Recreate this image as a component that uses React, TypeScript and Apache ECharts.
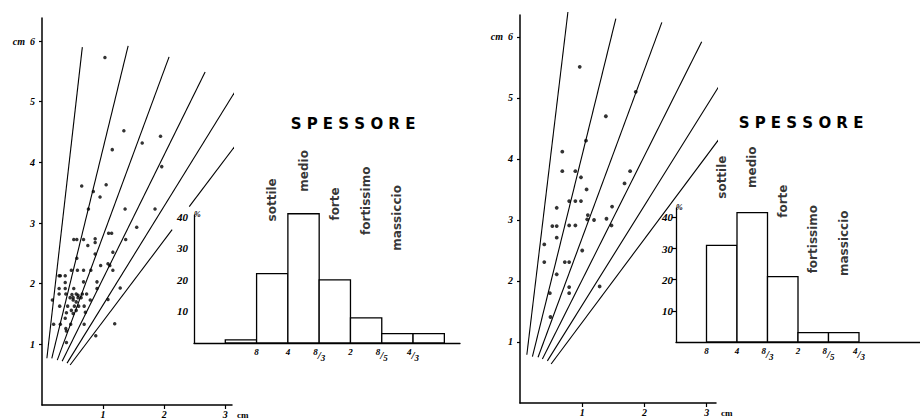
import { useEffect, useRef } from "react";
import * as echarts from "echarts";

// ---- data ----
const leftPoints: [number, number][] = [
  [1.03, 5.73], [1.34, 4.52], [1.94, 4.43], [1.64, 4.32], [1.15, 4.21], [1.96, 3.93],
  [0.65, 3.61], [1.05, 3.63], [0.84, 3.52], [0.95, 3.43], [0.76, 3.23], [1.36, 3.23],
  [1.85, 3.23], [1.55, 2.93],
  [0.52, 2.73], [0.57, 2.73], [0.68, 2.73], [0.87, 2.74], [0.87, 2.68], [1.09, 2.83],
  [1.14, 2.83], [1.37, 2.73], [0.75, 2.63], [0.87, 2.49], [1.16, 2.52], [0.57, 2.42],
  [0.96, 2.3], [1.08, 2.33], [1.11, 2.3],
  [0.48, 2.22], [0.58, 2.22], [0.68, 2.22], [0.8, 2.22], [1.16, 2.22],
  [0.28, 2.13], [0.3, 2.13], [0.38, 2.13],
  [0.38, 2.02], [0.68, 2.03], [0.9, 2.03],
  [0.28, 1.92], [0.38, 1.92], [0.52, 1.92], [0.9, 1.92], [1.28, 1.93],
  [0.28, 1.83], [0.39, 1.83], [0.49, 1.82], [0.56, 1.83], [0.59, 1.81], [0.66, 1.83], [0.73, 1.83],
  [0.46, 1.77], [0.51, 1.77], [0.59, 1.77], [0.64, 1.77],
  [0.17, 1.73], [0.51, 1.73], [0.56, 1.7], [0.79, 1.73], [1.08, 1.74],
  [0.29, 1.63], [0.42, 1.63], [0.53, 1.63], [0.6, 1.63], [0.69, 1.63],
  [0.48, 1.56], [0.56, 1.56], [0.71, 1.53], [0.4, 1.52], [0.51, 1.51],
  [0.38, 1.43],
  [0.19, 1.33], [0.3, 1.33], [0.47, 1.33], [0.69, 1.33], [1.19, 1.34],
  [0.39, 1.26], [0.4, 1.22], [0.4, 1.03], [0.88, 1.14],
];

const rightPoints: [number, number][] = [
  [0.96, 5.51], [1.86, 5.1], [1.38, 4.7], [1.06, 4.3], [0.68, 4.12], [0.68, 3.8],
  [0.89, 3.8], [1.77, 3.8], [0.98, 3.7], [1.68, 3.6], [1.07, 3.5],
  [0.79, 3.31], [0.89, 3.31], [0.98, 3.31], [0.59, 3.2], [1.48, 3.22], [1.09, 3.08],
  [1.08, 3.01], [1.19, 3.0], [1.39, 3.02],
  [0.52, 2.9], [0.59, 2.9], [0.79, 2.91], [0.89, 2.91], [1.47, 2.91], [0.59, 2.71],
  [0.39, 2.6], [1.0, 2.5],
  [0.39, 2.31], [0.72, 2.31], [0.79, 2.31], [0.59, 2.11], [0.48, 1.8], [0.79, 1.9],
  [0.79, 1.8], [1.28, 1.91], [0.49, 1.41],
];

// ratio lines (x0, y0, x1, y1) in cm
const leftRays: [number, number, number, number][] = [
  [0.08, 0.77, 0.66, 5.9],
  [0.16, 0.77, 1.41, 5.92],
  [0.25, 0.74, 2.08, 5.74],
  [0.33, 0.72, 2.67, 5.49],
  [0.41, 0.69, 3.18, 5.2],
  [0.46, 0.66, 2.13, 2.89],
  [2.41, 3.27, 3.61, 4.87],
];
const rightRays: [number, number, number, number][] = [
  [0.11, 0.79, 0.77, 6.41],
  [0.2, 0.76, 1.54, 6.3],
  [0.29, 0.75, 2.28, 6.24],
  [0.36, 0.72, 2.92, 5.92],
  [0.44, 0.69, 3.46, 5.62],
  [0.5, 0.64, 3.89, 5.27],
];

const scatterTicks = [1, 2, 3, 4, 5, 6];
const histTicks = [10, 20, 30, 40];
const ratioLabels = ["8", "4", "8/3", "2", "8/5", "4/3"];
const thicknessClasses = ["sottile", "medio", "forte", "fortissimo", "massiccio"];
// bins: >8, 8-4, 4-8/3, 8/3-2, 2-8/5, 8/5-4/3, <4/3  (percent)
const leftPercent = [1, 22, 41, 20, 8, 3, 3];
const rightPercent = [0, 31, 41.5, 21, 3, 3, 0];

// ---- layout (not data) ----
const leftClassLabelY = [45.4, 54.6, 44.1, 45.1, 39.7];
const rightClassLabelY = [52.9, 56.1, 45.2, 33, 31.7];

const INK = "#000";
const tickFont = {
  fontFamily: "Liberation Serif",
  fontStyle: "italic" as const,
  fontWeight: "bold" as const,
  fontSize: 10,
  color: INK,
};

function rayseries(rays: [number, number, number, number][], axis: number) {
  return rays.map((r) => ({
    type: "line",
    xAxisIndex: axis,
    yAxisIndex: axis,
    data: [
      [r[0], r[1]],
      [r[2], r[3]],
    ],
    showSymbol: false,
    clip: false,
    silent: true,
    lineStyle: { color: INK, width: 1.1 },
  }));
}

function histSeries(values: number[], offset: number, axis: number) {
  const data = values
    .map((v, i) => [offset + i, offset + i + 1, v])
    .filter((d) => d[2] > 0);
  return {
    type: "custom",
    xAxisIndex: axis,
    yAxisIndex: axis,
    data,
    encode: { x: [0, 1], y: 2 },
    clip: false,
    silent: true,
    renderItem: (_p: any, api: any) => {
      const p0 = api.coord([api.value(0), 0]);
      const p1 = api.coord([api.value(1), api.value(2)]);
      return {
        type: "rect",
        shape: { x: p0[0], y: p1[1], width: p1[0] - p0[0], height: p0[1] - p1[1] },
        style: { fill: "#fff", stroke: INK, lineWidth: 1.3 },
      };
    },
  };
}

function classLabelSeries(offset: number, ys: number[], axis: number) {
  return {
    type: "scatter",
    xAxisIndex: axis,
    yAxisIndex: axis,
    clip: false,
    silent: true,
    symbolSize: 1,
    itemStyle: { color: "rgba(0,0,0,0)" },
    data: thicknessClasses.map((name, i) => ({ name, value: [offset + 1.5 + i, ys[i]] })),
    label: {
      show: true,
      position: "inside",
      rotate: 90,
      align: "center",
      verticalAlign: "middle",
      formatter: (p: any) => p.name,
      fontFamily: "DejaVu Sans",
      fontWeight: "bold",
      fontSize: 12,
      color: INK,
    },
  };
}

function ratioFormatter(first: number) {
  return (v: number) => {
    const s = ratioLabels[Math.round(v) - first];
    if (!s) return "";
    if (s.includes("/")) {
      const [n, d] = s.split("/");
      return `{n|${n}}{s|/}{d|${d}}`;
    }
    return `{w|${s}}`;
  };
}

const fracRich = {
  n: { ...tickFont, fontSize: 9, verticalAlign: "top", lineHeight: 15 },
  s: { ...tickFont, fontSize: 11, verticalAlign: "middle", lineHeight: 15 },
  d: { ...tickFont, fontSize: 9, verticalAlign: "bottom", lineHeight: 15 },
  w: { ...tickFont, fontSize: 9, verticalAlign: "top", lineHeight: 15 },
};

function scatterAxes(grid: number, xMax: number, yMax: number) {
  return {
    x: {
      gridIndex: grid,
      type: "value",
      min: 0,
      max: xMax,
      splitLine: { show: false },
      axisLine: { show: true, lineStyle: { color: INK, width: 1.5 } },
      axisTick: { show: true, length: 4, customValues: [1, 2, 3], lineStyle: { color: INK, width: 1.2 } },
      axisLabel: { ...tickFont, margin: 4, customValues: [1, 2, 3], formatter: (v: number) => String(v) },
      name: "cm",
      nameLocation: "end",
      nameGap: 5,
      nameTextStyle: { ...tickFont, fontStyle: "normal", fontSize: 9, verticalAlign: "top", padding: [5, 0, 0, 0] },
    },
    y: {
      gridIndex: grid,
      type: "value",
      min: 0,
      max: yMax,
      splitLine: { show: false },
      axisLine: { show: true, lineStyle: { color: INK, width: 1.5 } },
      axisTick: { show: true, length: 3, customValues: scatterTicks, lineStyle: { color: INK, width: 1.2 } },
      axisLabel: {
        ...tickFont,
        margin: 7,
        customValues: scatterTicks,
        formatter: (v: number) => (v === 6 ? "cm  6" : String(v)),
      },
    },
  };
}

function histAxes(grid: number, xMax: number, yMax: number, first: number, ticks: boolean, labelMargin: number) {
  return {
    x: {
      gridIndex: grid,
      type: "value",
      min: 0,
      max: xMax,
      splitLine: { show: false },
      axisLine: { show: true, lineStyle: { color: INK, width: 1.3 } },
      axisTick: { show: false },
      axisLabel: {
        margin: 4,
        customValues: ratioLabels.map((_, i) => first + i),
        formatter: ratioFormatter(first),
        rich: fracRich,
      },
    },
    y: {
      gridIndex: grid,
      type: "value",
      min: 0,
      max: yMax,
      splitLine: { show: false },
      axisLine: { show: true, lineStyle: { color: INK, width: 1.3 } },
      axisTick: { show: ticks, length: 4, customValues: histTicks, lineStyle: { color: INK, width: 1.2 } },
      axisLabel: { ...tickFont, fontSize: 11, margin: labelMargin, customValues: histTicks, formatter: (v: number) => String(v) },
      name: "%",
      nameLocation: "end",
      nameGap: 1,
      nameTextStyle: { ...tickFont, fontSize: 8, align: "left", verticalAlign: "middle" },
    },
  };
}

const titleStyle = {
  text: "S P E S S O R E",
  fontFamily: "DejaVu Sans",
  fontWeight: "bold",
  fontSize: 15,
  fill: INK,
  align: "center",
  verticalAlign: "middle",
};

export default function App() {
  const ref = useRef<HTMLDivElement>(null);
  useEffect(() => {
    if (!ref.current) return;
    const chart = echarts.init(ref.current, undefined, { renderer: "svg" });
    const ls = scatterAxes(0, 3.11, 6.38);
    const lh = histAxes(1, 8.5, 40.6, 2, false, 6);
    const rs = scatterAxes(2, 3.15, 6.36);
    const rh = histAxes(3, 8, 43, 1, true, 3);
    chart.setOption({
      animation: false,
      backgroundColor: "#fff",
      grid: [
        { left: 42, top: 18, width: 190, height: 389 },
        { left: 194, top: 215, width: 266, height: 128 },
        { left: 520, top: 15, width: 196, height: 388 },
        { left: 676, top: 208, width: 250, height: 134 },
      ],
      xAxis: [ls.x, lh.x, rs.x, rh.x],
      yAxis: [ls.y, lh.y, rs.y, rh.y],
      graphic: [
        { type: "text", x: 353, y: 124, style: titleStyle },
        { type: "text", x: 801, y: 123, style: titleStyle },
      ],
      series: [
        ...rayseries(leftRays, 0),
        ...rayseries(rightRays, 2),
        {
          type: "scatter",
          xAxisIndex: 0,
          yAxisIndex: 0,
          data: leftPoints,
          symbolSize: 3.5,
          itemStyle: { color: INK },
          silent: true,
        },
        {
          type: "scatter",
          xAxisIndex: 2,
          yAxisIndex: 2,
          data: rightPoints,
          symbolSize: 3.8,
          itemStyle: { color: INK },
          silent: true,
        },
        histSeries(leftPercent, 1, 1),
        histSeries(rightPercent, 0, 3),
        classLabelSeries(1, leftClassLabelY, 1),
        classLabelSeries(0, rightClassLabelY, 3),
      ],
    });
    return () => chart.dispose();
  }, []);
  return (
    <div
      ref={ref}
      style={{ position: "absolute", left: 0, top: 0, width: 920, height: 419, background: "#fff" }}
    />
  );
}
